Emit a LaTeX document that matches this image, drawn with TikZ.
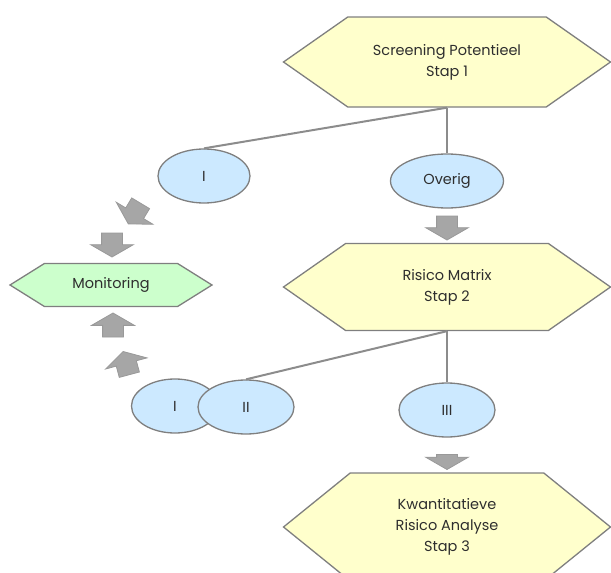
\documentclass[tikz,border=0pt]{standalone}
\usepackage{fontspec}
\setmainfont{Poppins}
\usetikzlibrary{shapes.symbols,shapes.geometric,shapes.arrows,positioning}
\definecolor{RSYellow}{HTML}{FFFFCC}
\definecolor{RSBlue}{HTML}{CCE9FF}
\definecolor{RSGreen}{HTML}{CCFFCC}
\definecolor{RSBorder}{HTML}{7F7F7F}
\definecolor{RSArrow}{HTML}{A6A6A6}
\definecolor{RSText}{HTML}{2E2E2E}

\begin{document}
\begin{tikzpicture}[
    x=1pt,y=-1pt,
    hexa/.style={signal,signal to=west and east,signal pointer angle=70,
      draw=RSBorder,line width=1.3pt,fill=RSYellow,inner sep=0pt,
      minimum width=327pt,minimum height=90pt,align=center,
      text=RSText,font=\fontsize{14.5}{21}\selectfont},
    oval/.style={ellipse,draw=RSBorder,line width=1.3pt,fill=RSBlue,inner sep=0pt,
      minimum width=92pt,minimum height=54pt,
      text=RSText,font=\fontsize{14.5}{18}\selectfont},
    blockarrow/.style={single arrow,draw=RSBorder!80,fill=RSArrow,line width=.8pt,
      inner xsep=0pt,inner ysep=10pt,minimum height=24pt,
      single arrow head extend=11pt,single arrow tip angle=120},
    link/.style={draw=RSBorder!90,line width=2pt}
  ]
  \useasboundingbox (0,0) rectangle (611,573);
  % stappen
  \node[hexa] (screening) at (447,62) {Screening Potentieel\\Stap 1};
  \node[hexa,minimum height=87pt] (matrix) at (447,287) {Risico Matrix\\Stap 2};
  \node[hexa,minimum height=108pt,signal pointer angle=78] (analyse) at (447,527)
    {Kwantitatieve\\Risico Analyse\\Stap 3};
  \node[hexa,fill=RSGreen,minimum width=202pt,minimum height=43pt,
    signal pointer angle=64] (monitoring) at (111,285) {Monitoring};
  % klassen
  \node[oval] (klasI) at (204,176) {I};
  \node[oval,minimum width=113pt] (overig) at (447,181) {Overig};
  \node[oval,minimum width=87pt] (klasIb) at (175,406) {I};
  \node[oval,minimum width=96pt] (klasII) at (246,407) {II};
  \node[oval,minimum width=96pt] (klasIII) at (447,410) {III};
  \draw[link] (screening.south) -- (overig.north);
  \draw[link] (screening.south) -- (klasI.north);
  \draw[link] (matrix.south) -- (klasIII.north);
  \draw[link] (matrix.south) -- (klasII.north);
  % pijlen
  \node[blockarrow,rotate=-90] (pijlA) at (447,225) {};
  \node[blockarrow,rotate=-90,minimum height=15pt] (pijlB) at (447,459) {};
  \node[blockarrow,rotate=239] (pijlC) at (136,211) {};
  \node[blockarrow,rotate=-90] (pijlD) at (112,242) {};
  \node[blockarrow,rotate=90] (pijlE) at (113,328) {};
  \node[blockarrow,rotate=105] (pijlF) at (127,366) {};
\end{tikzpicture}
\end{document}
